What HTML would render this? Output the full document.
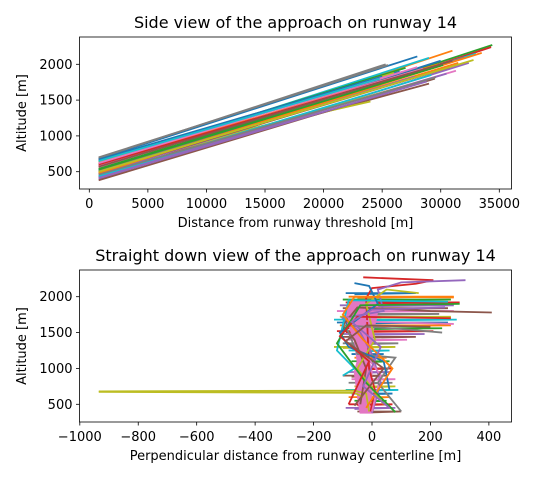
<!DOCTYPE html>
<html><head><meta charset="utf-8"><style>
body{margin:0;background:#fff;}
svg{font-family:"DejaVu Sans","Liberation Sans",sans-serif;}
</style></head><body>
<svg id="c" width="535" height="480" xmlns="http://www.w3.org/2000/svg"></svg>
<script>
// ---------- data ----------
const colors=["#1f77b4","#ff7f0e","#2ca02c","#d62728","#9467bd","#8c564b","#e377c2","#7f7f7f","#bcbd22","#17becf"];
// top chart: per flight [end distance, start altitude at ~800m, end altitude]
const sideEndDist=[28000,31000,34400,34300,32400,29000,31300,25300,24000,29000,30000,31500,27000,26000,30500,29500,28000,25500,27500,33000,26500,29800,31800,24500,27800,30800,28500,32000,26000,29200,25000,33500,30200,27300,28800,31000,26800,29600,32800,24800];
const sideStartAlt=[680,560,470,420,400,470,450,690,620,600,520,500,640,580,430,380,560,700,500,520,650,610,540,660,470,490,590,510,630,440,670,480,530,600,410,570,620,460,500,650];
const sideEndAlt=[2110,2190,2270,2240,2020,1730,1910,2000,1480,2090,2050,2020,1950,1820,1870,1800,1960,1990,1720,2150,1900,2000,2080,1790,1830,1960,1940,2100,1880,1850,1830,2160,1990,1870,1760,2050,1900,1820,2060,1800];
const sideStartDist=800;
const topXTicks=[0,5000,10000,15000,20000,25000,30000,35000];
const topYTicks=[500,1000,1500,2000];
// bottom chart: paths of [lateral offset, altitude]
const downPaths=[
 [[-935,680],[-60,690],[-20,650],[-10,400]],
 [[-935,674],[-60,660],[-30,600]],
 [[-30,2270],[210,2230],[150,2180],[0,2120],[-20,1980],[-15,1500],[-10,1000],[10,700],[-5,400]],
 [[320,2230],[100,2200],[20,2100],[40,1800],[-100,1700],[-40,1500],[0,1200],[30,800],[0,380]],
 [[410,1780],[200,1800],[-50,1850],[-100,1600],[-60,1400],[-20,1000],[-40,500]],
 [[280,1620],[0,1650],[-80,1700],[-40,1300],[30,900],[0,400]],
 [[240,1500],[100,1550],[-90,1600],[-50,1200],[80,1150],[20,800],[100,400]],
 [[160,2050],[50,2100],[-20,1900],[10,1400],[-50,1000],[40,500]],
 [[260,1930],[-80,1950],[-120,1250],[-60,1000],[-100,900]],
 [[-60,2190],[-10,2150],[20,1900],[-110,1500],[-80,1300],[40,1100],[60,700]],
 [[280,1990],[-60,2000],[-100,1750],[-30,1400],[70,1000],[-20,450]],
 [[300,1900],[-40,1880],[-90,1550],[-120,1350],[-20,800],[80,390]],
 [[270,1700],[-50,1720],[-110,1450],[-10,1100],[-80,500]],
 [[250,1850],[0,1820],[-70,1650],[30,1300],[-30,750],[60,450]],
 [[200,1580],[-20,1600],[-90,1380],[40,1000],[-60,480]]
];
const fanAlts=[2050,2000,1960,1920,1880,1840,1800,1760,1720,1680,1640,1600,1560,1520,1480,1440,1400,1350,1300,1250,1200,1150,1100,1000,950,900,850,800,750,700,650,600,550,500,450,400];
const fanRight=[150,280,270,300,280,260,280,230,270,290,260,270,240,210,180,150,120,90,80,60,40,50,60,70,60,50,80,70,80,90,70,60,50,70,80,100];
const fanLeft=[-90,-80,-100,-90,-110,-100,-120,-90,-110,-130,-120,-110,-100,-120,-100,-110,-90,-100,-130,-80,-70,-60,-70,-60,-80,-100,-70,-80,-60,-90,-70,-80,-60,-80,-90,-50];
// pink dense band bounds
const pinkAlts=[1950,1850,1700,1550,1400,1250,1100,950,800,650,500,380];
const pinkLeft=[-70,-80,-90,-75,-60,-55,-50,-60,-55,-50,-45,-40];
const pinkRight=[10,20,15,5,0,-5,-10,0,-5,0,-10,0];
const botXTicks=[-1000,-800,-600,-400,-200,0,200,400];
const botYTicks=[500,1000,1500,2000];

// ---------- drawing ----------
const svg=document.getElementById('c');
const NS="http://www.w3.org/2000/svg";
function mk(tag,attrs,parent){const e=document.createElementNS(NS,tag);for(const k in attrs)e.setAttribute(k,attrs[k]);(parent||svg).appendChild(e);return e;}
function txt(s,x,y,size,anchor,parent,rot){const t=mk('text',{x:x,y:y,'font-size':size,'text-anchor':anchor||'middle',fill:'#000'},parent);if(rot)t.setAttribute('transform',`rotate(-90 ${x} ${y})`);t.textContent=s;return t;}

function axes(name,L,R,T,B,xs,ys,xt,yt,title,xl,yl,fmt){
 const g=mk('g',{});
 
 
 const clip=mk('clipPath',{id:name+'-clip'},g);mk('rect',{x:L,y:T,width:R-L,height:B-T},clip);
 const plot=mk('g',{'clip-path':`url(#${name}-clip)`},g);
 
 
 const frame=mk('rect',{x:L,y:T,width:R-L,height:B-T,fill:'none',stroke:'#000','stroke-width':0.8},g);
 
 
 const xa=mk('g',{},g);
 
 
 xt.forEach(v=>{const x=xs(v);mk('line',{x1:x,x2:x,y1:B,y2:B+3.5,stroke:'#000','stroke-width':0.8},xa);txt(fmt(v),x,B+19,13,'middle',xa);});
 const ya=mk('g',{},g);
 
 
 yt.forEach(v=>{const y=ys(v);mk('line',{x1:L-3.5,x2:L,y1:y,y2:y,stroke:'#000','stroke-width':0.8},ya);txt(String(v),L-7,y+4.5,13,'end',ya);});
 const tt=txt(title,(L+R)/2,T-9,16,'middle',g);
 
 
 const xlab=txt(xl,(L+R)/2,B+38,13,'middle',g);
 
 
 const ylab=txt(yl,26,(T+B)/2,13,'middle',g,true);
 
 
 return plot;
}
const fmtNum=v=>v<0?'\u2212'+Math.abs(v):String(v);

// top
const tL=79.5,tR=511.5,tT=37,tB=189;
const tx=v=>89.3+v*(499.3-89.3)/35000;
const ty=v=>171.7-(v-500)*(171.7-64.3)/1500;
const p1=axes('side-view',tL,tR,tT,tB,tx,ty,topXTicks,topYTicks,'Side view of the approach on runway 14','Distance from runway threshold [m]','Altitude [m]',fmtNum);
sideEndDist.forEach((d,i)=>{
 const l=mk('polyline',{points:`${tx(sideStartDist)},${ty(sideStartAlt[i])} ${tx(d)},${ty(sideEndAlt[i])}`,fill:'none',stroke:colors[i%10],'stroke-width':1.8},p1);
 
 
});

// bottom
const bL=79.5,bR=511.5,bT=270,bB=422;
const bx=v=>372+v*(372-79.8)/1000;
const by=v=>404.3-(v-500)*(404.3-296.7)/1500;
const p2=axes('down-view',bL,bR,bT,bB,bx,by,botXTicks,botYTicks,'Straight down view of the approach on runway 14','Perpendicular distance from runway centerline [m]','Altitude [m]',fmtNum);
fanAlts.forEach((a,i)=>{
 const pts=`${bx(fanLeft[i])},${by(a)} ${bx(fanRight[i])},${by(a)} ${bx(fanLeft[i]+30)},${by(a-15)}`;
 const l=mk('polyline',{points:pts,fill:'none',stroke:colors[i%10],'stroke-width':1.8},p2);
 
 
});
let poly=[];
pinkAlts.forEach((a,i)=>poly.push(bx(pinkLeft[i])+','+by(a)));
for(let i=pinkAlts.length-1;i>=0;i--)poly.push(bx(pinkRight[i])+','+by(pinkAlts[i]));
const pk=mk('polygon',{points:poly.join(' '),fill:'#e377c2',stroke:'#e377c2','stroke-width':1.5},p2);


downPaths.forEach((p,i)=>{
 const c=i<2?'#bcbd22':colors[(i+1)%10];
 const l=mk('polyline',{points:p.map(q=>bx(q[0])+','+by(q[1])).join(' '),fill:'none',stroke:c,'stroke-width':1.8},p2);
 
 
});
</script>
</body></html>
